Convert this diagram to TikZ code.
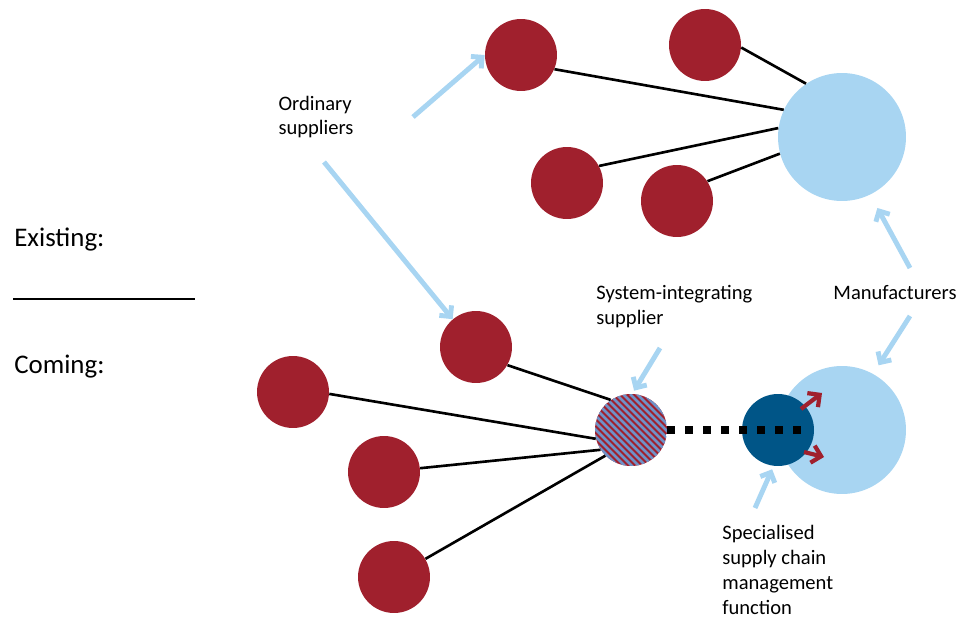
\documentclass[tikz,border=0pt]{standalone}
\usepackage{fontspec}
\setmainfont{Carlito}
\usetikzlibrary{arrows.meta}
\definecolor{suppred}{HTML}{A0202D}
\definecolor{manblue}{HTML}{A8D5F2}
\definecolor{scmblue}{HTML}{005587}
\definecolor{stripeblue}{HTML}{6E92C8}
\begin{document}
\begin{tikzpicture}[x=0.02cm,y=-0.02cm,
        supplier/.style={circle,fill=suppred,minimum size=1.44cm,inner sep=0pt},
        maker/.style={circle,fill=manblue,minimum size=2.56cm,inner sep=0pt},
        integrator/.style={circle,minimum size=1.44cm,inner sep=0pt,
          path picture={
            \fill[suppred] (path picture bounding box.south west) rectangle (path picture bounding box.north east);
            \foreach \k in {-12,...,12}
              \draw[stripeblue,line width=1.5pt] ([xshift=\k*0.14cm]path picture bounding box.north west) -- ++(1.8cm,-1.8cm);
          }},
        link/.style={black,line width=1.5pt},
        pointer/.style={manblue,line width=2.8pt,-{Straight Barb[length=4.5pt,width=9pt]}},
        push/.style={suppred,line width=2.4pt,-{Straight Barb[length=5pt,width=10pt]}},
        label/.style={inner sep=0pt,align=left,font=\fontsize{11.7}{14.2}\selectfont},
        heading/.style={inner sep=0pt,anchor=west,font=\fontsize{15.3}{18}\selectfont}]
        \useasboundingbox (0,0) rectangle (967,618);
        % existing structure
        \node[maker] (M1) at (842,137) {};
        \node[supplier] (A1) at (521,55) {};
        \node[supplier] (A2) at (705,45) {};
        \node[supplier] (A3) at (567,183) {};
        \node[supplier] (A4) at (677,201) {};
        \draw[link] (A1.-23) -- (M1.155);
        \draw[link] (A2.-4) -- (M1.124);
        \draw[link] (A3.28) -- (M1.172);
        \draw[link] (A4.33) -- (M1.195);
        % coming structure
        \node[maker] (M2) at (842,430) {};
        \node[supplier] (B1) at (476,347) {};
        \node[supplier] (B2) at (293,392) {};
        \node[supplier] (B3) at (384,472) {};
        \node[supplier] (B4) at (394,577) {};
        \node[integrator] (S) at (631,430) {};
        \draw[link] (B1.-30) -- (S.124);
        \draw[link] (B2.-3) -- (S.194);
        \draw[link] (B3.6) -- (S.213);
        \draw[link] (B4.30) -- (S.225);
        \node[circle,fill=scmblue,minimum size=1.44cm,inner sep=0pt] (D) at (778,430) {};
        \coordinate (dotend) at (808,430);
        \draw[black,line width=4.5pt,dash pattern=on 0.16cm off 0.2cm] (S.east) -- (dotend);
        \coordinate (r1a) at (801,409);
        \coordinate (r1b) at (822,393);
        \coordinate (r2a) at (804,452);
        \coordinate (r2b) at (824,457);
        \draw[push] (r1a) -- (r1b);
        \draw[push] (r2a) -- (r2b);
        % labels
        \node[label] (ordinary) at (316,117) {Ordinary\\suppliers};
        \node[label,anchor=west] (sysint) at (596,307) {System-integrating\\supplier};
        \node[label] (manuf) at (895,293) {Manufacturers};
        \node[label,anchor=west] (special) at (722,570) {Specialised\\supply chain\\management\\function};
        \node[heading] (existing) at (14,240) {Existing:};
        \node[heading] (coming) at (14,367) {Coming:};
        \coordinate (sepa) at (13,299);
        \coordinate (sepb) at (195,299);
        \draw[black,line width=0.7pt] (sepa) -- (sepb);
        % pointers
        \coordinate (p1) at (413,117);
        \coordinate (p2) at (324,162);
        \coordinate (p3) at (660,348);
        \coordinate (p4) at (910,268);
        \coordinate (p5) at (910,316);
        \coordinate (p6) at (755,508);
        \draw[pointer] (p1) -- (A1.180);
        \draw[pointer] (p2) -- (B1.130);
        \draw[pointer,shorten >=2pt] (p3) -- (S.88);
        \draw[pointer,shorten >=0.3cm] (p4) -- (M1.-64);
        \draw[pointer,shorten >=0.2cm] (p5) -- (M2.61);
        \draw[pointer,shorten >=2pt] (p6) -- (D.-97);
\end{tikzpicture}
\end{document}
